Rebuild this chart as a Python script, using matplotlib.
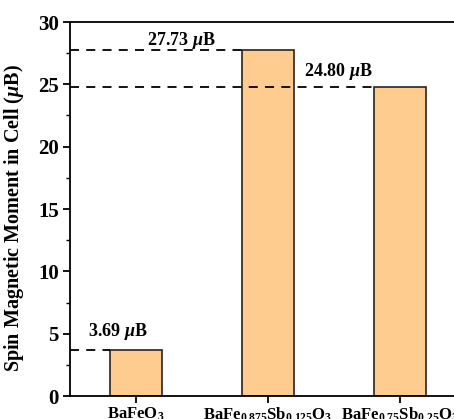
import numpy as np
import matplotlib.pyplot as plt

plt.rcParams['font.family'] = 'Liberation Serif'
plt.rcParams['font.weight'] = 'bold'
plt.rcParams['axes.labelweight'] = 'bold'
plt.rcParams['mathtext.fontset'] = 'custom'
plt.rcParams['mathtext.rm'] = 'Liberation Serif:bold'
plt.rcParams['mathtext.it'] = 'Liberation Serif:italic:bold'
plt.rcParams['mathtext.bf'] = 'Liberation Serif:bold'

# datos
compounds = [r"BaFeO$_3$",
             r"BaFe$_{0.875}$Sb$_{0.125}$O$_3$",
             r"BaFe$_{0.75}$Sb$_{0.25}$O$_3$"]
moments = [3.69, 27.73, 24.80]
labels = [r"3.69 $\mu$B", r"27.73 $\mu$B", r"24.80 $\mu$B"]
# posicion de las etiquetas (x, y) en coordenadas de datos
label_pos = [(0.86, 5.15), (1.34, 28.55), (2.53, 26.0)]

x = np.arange(1, len(moments) + 1)
width = 0.4

fig = plt.figure(figsize=(4.54, 4.19), dpi=100)
ax = fig.add_axes([70 / 454, 23 / 419, 396 / 454, 374 / 419])

ax.bar(x, moments, width=width, color='#FFCC8F', edgecolor='#2b2320', lw=1.2, zorder=2)

# lineas punteadas desde el eje hasta cada barra
for xi, m in zip(x, moments):
    ax.plot([0.5, xi - width / 2], [m, m], ls=(0, (5, 4)), color='black', lw=1.3, zorder=3)

for (tx, ty), lab in zip(label_pos, labels):
    ax.text(tx, ty, lab, ha='center', va='center', fontsize=13)

ax.set_xlim(0.5, 3.5)
ax.set_ylim(0, 30)
ax.set_xticks(x)
ax.set_xticklabels(compounds, fontsize=12)
ax.set_yticks(np.arange(0, 31, 5))
ax.set_yticks(np.arange(2.5, 30, 5), minor=True)
ax.tick_params(axis='y', labelsize=15, pad=3)
ax.tick_params(axis='x', pad=2)
ax.tick_params(which='major', direction='out', length=5, width=1.3)
ax.tick_params(which='minor', direction='out', length=3, width=1.0)
ax.set_ylabel(r"Spin Magnetic Moment in Cell ($\mu$B)", fontsize=14.5)
ax.yaxis.set_label_coords(-0.11, 0.475)

for s in ax.spines.values():
    s.set_linewidth(1.3)

fig.savefig("out.png", dpi=100)
